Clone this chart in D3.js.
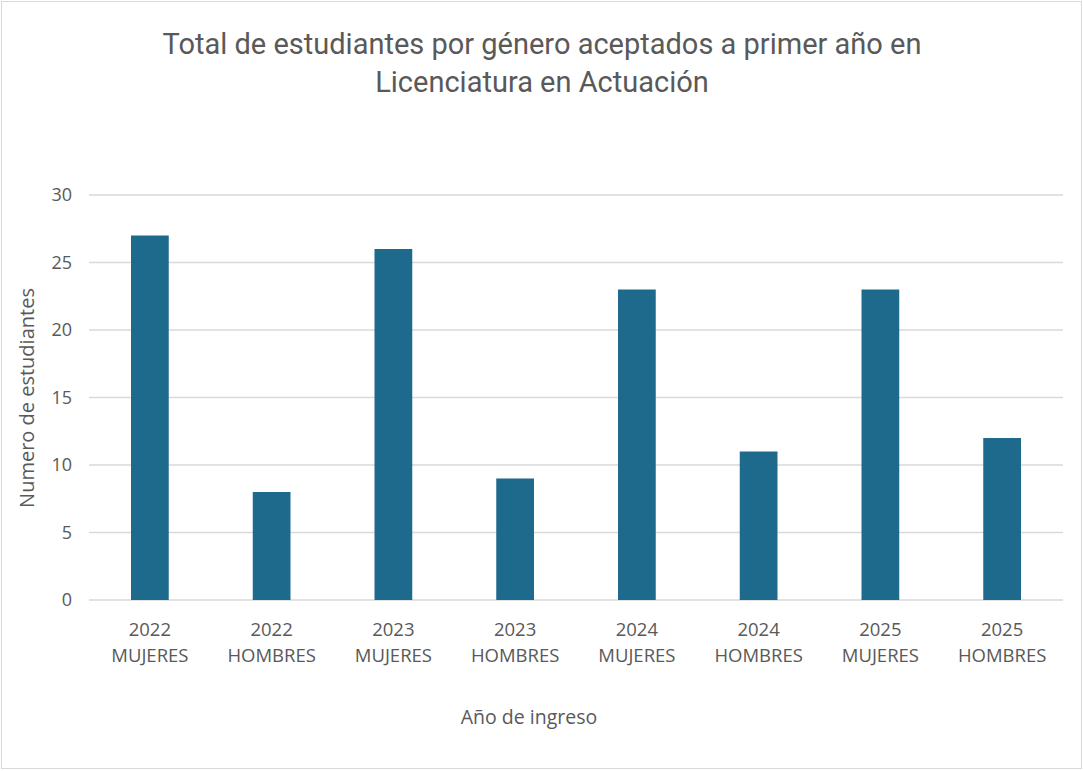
<!DOCTYPE html>
<html>
<head>
<meta charset="utf-8">
<script src="https://cdn.jsdelivr.net/npm/d3@7"></script>
<style>
  body { margin: 0; background: #fff; }
  svg { display: block; font-family: "Open Sans", Roboto, sans-serif; }
</style>
</head>
<body>
<svg id="chart" width="1083" height="771"></svg>
<script>
// data
var years = ['2022', '2022', '2023', '2023', '2024', '2024', '2025', '2025'];
var genders = ['MUJERES', 'HOMBRES', 'MUJERES', 'HOMBRES', 'MUJERES', 'HOMBRES', 'MUJERES', 'HOMBRES'];
var students = [27, 8, 26, 9, 23, 11, 23, 12];
var yTicks = [0, 5, 10, 15, 20, 25, 30];

var svg = d3.select('#chart');
var margin = { top: 195, right: 20, bottom: 171, left: 89 };
var width = 1063 - margin.left;
var height = 600 - margin.top;
var textColor = '#595959';

// outer border of the chart
svg.append('rect')
  .attr('x', 1.5).attr('y', 1.5)
  .attr('width', 1080).attr('height', 767)
  .attr('fill', '#fff')
  .attr('stroke', '#d9d9d9');

// title
var title = svg.append('text')
  .attr('text-anchor', 'middle')
  .attr('fill', textColor)
  .style('font-family', 'Roboto, sans-serif')
  .style('font-size', '29px');
title.append('tspan').attr('x', 542).attr('y', 54)
  .text('Total de estudiantes por género aceptados a primer año en');
title.append('tspan').attr('x', 542).attr('y', 92)
  .text('Licenciatura en Actuación');

var g = svg.append('g')
  .attr('transform', 'translate(' + margin.left + ',' + margin.top + ')');

var idx = d3.range(students.length);
var x = d3.scaleBand()
  .domain(idx)
  .range([0, width])
  .paddingInner(0.69)
  .paddingOuter(0.345);

var y = d3.scaleLinear()
  .domain([0, 30])
  .range([height, 0]);

// gridlines
g.selectAll('.grid')
  .data(yTicks)
  .enter()
  .append('line')
  .attr('x1', 0).attr('x2', width)
  .attr('y1', d => y(d)).attr('y2', d => y(d))
  .attr('stroke', '#d9d9d9')
  .attr('stroke-width', 1.3);

// y tick labels
g.selectAll('.ylab')
  .data(yTicks)
  .enter()
  .append('text')
  .attr('x', -17)
  .attr('y', d => y(d))
  .attr('dy', '0.35em')
  .attr('text-anchor', 'end')
  .attr('fill', textColor)
  .style('font-size', '18px')
  .text(d => d);

// bars
g.selectAll('.bar')
  .data(idx)
  .enter()
  .append('rect')
  .attr('x', i => x(i))
  .attr('y', i => y(students[i]))
  .attr('width', x.bandwidth())
  .attr('height', i => height - y(students[i]))
  .attr('fill', '#1d6a8c');

// x category labels
var xl = g.selectAll('.xlab')
  .data(idx)
  .enter()
  .append('text')
  .attr('text-anchor', 'middle')
  .attr('fill', textColor)
  .style('font-size', '18.5px');
xl.append('tspan')
  .attr('x', i => x(i) + x.bandwidth() / 2)
  .attr('y', height + 36)
  .text(i => years[i]);
xl.append('tspan')
  .attr('x', i => x(i) + x.bandwidth() / 2)
  .attr('y', height + 62)
  .text(i => genders[i]);

// axis titles
svg.append('text')
  .attr('x', 529).attr('y', 724)
  .attr('text-anchor', 'middle')
  .attr('fill', textColor)
  .style('font-size', '19.5px')
  .text('Año de ingreso');

svg.append('text')
  .attr('transform', 'translate(34,398) rotate(-90)')
  .attr('text-anchor', 'middle')
  .attr('fill', textColor)
  .style('font-size', '20px')
  .text('Numero de estudiantes');
</script>
</body>
</html>
